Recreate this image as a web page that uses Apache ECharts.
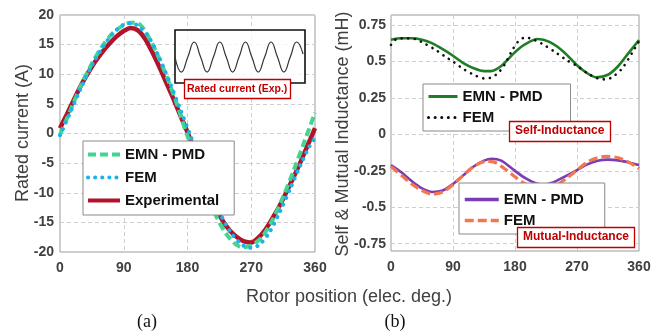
<!DOCTYPE html>
<html><head><meta charset="utf-8">
<script src="https://cdn.jsdelivr.net/npm/echarts@6/dist/echarts.min.js"></script>
<style>html,body{margin:0;padding:0;background:#fff}#c{width:665px;height:335px}</style>
</head><body><div id="c"></div>
<script>
// ---------- (a) Rated current ----------
const xTicks = [0, 90, 180, 270, 360];
const emnAng = [0,15,30,45,60,75,90,100,110,120,135,150,165,178,190,205,220,235,248,258,270,285,300,315,330,345,360];
const emnCur = [-0.2,4,8.2,11.8,14.8,17,18.3,18.7,18.6,17.3,14,9.8,5,0.2,-3.5,-8.8,-13.8,-17.0,-18.7,-19.2,-18.9,-17.5,-14.6,-10.7,-6.2,-1.4,3.5];
const femAng = [0,15,30,45,60,75,90,100,110,125,140,155,170,184,195,210,225,240,255,268,280,295,310,325,340,352,360];
const femCur = [-0.3,3.7,7.8,11.5,14.5,16.9,18.4,18.6,18.2,16.3,12.8,8.6,4,-0.3,-3.8,-8.8,-13.2,-16.5,-18.6,-19.3,-18.9,-16.8,-13.3,-9.3,-5.2,-2.2,-0.8];
const expAng = [0,10,20,30,40,50,60,70,80,90,100,110,120,130,140,150,160,170,180,190,200,210,220,230,240,250,260,270,280,290,300,310,320,330,340,350,360];
const expCur = [0.9,3.3,5.8,8.2,10.3,12.2,13.8,15.2,16.4,17.3,17.8,17.4,16,13.8,11.3,8.6,5.9,3.0,0.2,-2.9,-6.0,-9.2,-12.4,-14.8,-16.4,-17.5,-18.2,-18.4,-17.6,-16.2,-14.3,-12.2,-9.8,-7.3,-4.7,-1.9,0.9];
const insetIdx = [0,1,2,3,4,5,6,7,8,9,10,11,12,13,14,15,16,17,18,19,20];
const insetVal = [0,-1,0,1,0,-1,0,1,0,-1,0,1,0,-1,0,1,0,-1,0,1,0.2];
const namesA = ['EMN - PMD#a', 'FEM#a', 'Experimental#a'];

// ---------- (b) Inductances ----------
const yTicksB = [-0.75,-0.5,-0.25,0,0.25,0.5,0.75];
const selfEmnAng = [0,15,30,45,60,75,90,105,120,135,145,160,180,195,213,230,250,270,285,298,315,330,345,360];
const selfEmnL = [0.65,0.66,0.66,0.65,0.625,0.585,0.54,0.49,0.455,0.435,0.435,0.47,0.565,0.62,0.655,0.635,0.57,0.475,0.42,0.392,0.41,0.47,0.56,0.648];
const selfFemAng = [0,8,20,35,50,65,80,90,105,120,135,145,155,165,175,185,195,205,220,240,255,270,285,300,310,320,335,350,360];
const selfFemL = [0.615,0.655,0.66,0.655,0.62,0.58,0.53,0.5,0.45,0.41,0.385,0.39,0.42,0.48,0.57,0.64,0.665,0.655,0.62,0.56,0.51,0.47,0.42,0.385,0.378,0.39,0.45,0.56,0.64];
const mutEmnAng = [0,15,30,45,60,75,90,105,120,135,146,160,180,195,210,222,235,250,270,285,300,315,330,345,360];
const mutEmnL = [-0.21,-0.26,-0.32,-0.37,-0.395,-0.385,-0.34,-0.28,-0.22,-0.18,-0.167,-0.18,-0.25,-0.3,-0.335,-0.345,-0.33,-0.295,-0.245,-0.205,-0.18,-0.173,-0.178,-0.192,-0.21];
const mutFemAng = [0,15,30,45,60,75,90,105,120,138,150,165,180,195,210,225,240,255,270,285,300,313,330,345,360];
const mutFemL = [-0.22,-0.28,-0.34,-0.385,-0.41,-0.395,-0.345,-0.28,-0.22,-0.185,-0.19,-0.235,-0.29,-0.34,-0.365,-0.37,-0.35,-0.3,-0.245,-0.19,-0.16,-0.15,-0.16,-0.19,-0.235];
const namesSelf = ['EMN - PMD#s', 'FEM#s'];
const namesMut = ['EMN - PMD#m', 'FEM#m'];

const zip = (a, b) => a.map((v, i) => [v, b[i]]);
const FONT = 'Liberation Sans';
const tickLabel = {fontSize: 14, fontWeight: 'bold', color: '#404040', fontFamily: FONT};
const split = {show: true, lineStyle: {color: '#cfcfcf', type: [4, 3], width: 1}};
const strip = n => n.split('#')[0];

const chart = echarts.init(document.getElementById('c'), null, {renderer: 'canvas'});
const legendBase = {
  orient: 'vertical', selectedMode: false, backgroundColor: '#fff',
  borderColor: '#8a8a8a', borderWidth: 1, borderRadius: 0,
  itemStyle: {opacity: 0, color: 'transparent', borderWidth: 0},
  textStyle: {fontSize: 15, fontWeight: 'bold', color: '#111', fontFamily: FONT},
  formatter: strip, z: 5
};
const labelBox = (text, left, top, size, pad) => ({
  text, left, top, padding: pad, backgroundColor: '#fff',
  borderColor: '#c00000', borderWidth: 1.3, z: 8,
  textStyle: {color: '#c00000', fontSize: size, fontWeight: 'bold', fontFamily: FONT}
});

chart.setOption({
  animation: false,
  grid: [
    {left: 60, top: 15, width: 255, height: 237, show: true, borderColor: '#9a9a9a', borderWidth: 1},
    {left: 391, top: 15, width: 248, height: 236, show: true, borderColor: '#9a9a9a', borderWidth: 1},
    {left: 175, top: 30, width: 130, height: 53, show: true, borderColor: '#111', borderWidth: 1.6, backgroundColor: 'rgba(255,255,255,0.78)', z: 3}
  ],
  xAxis: [
    {gridIndex: 0, type: 'value', min: 0, max: 360, interval: 90, axisLine: {show: false}, axisTick: {show: false}, axisLabel: Object.assign({margin: 9}, tickLabel), splitLine: split},
    {gridIndex: 1, type: 'value', min: 0, max: 360, interval: 90, axisLine: {show: false}, axisTick: {show: false}, axisLabel: Object.assign({margin: 9}, tickLabel), splitLine: split},
    {gridIndex: 2, type: 'value', min: 0, max: 20.3, show: false}
  ],
  yAxis: [
    {gridIndex: 0, type: 'value', min: -20, max: 20, interval: 5, axisLine: {show: false}, axisTick: {show: false}, axisLabel: Object.assign({margin: 6}, tickLabel), splitLine: split},
    {gridIndex: 1, type: 'value', min: -0.8, max: 0.82, axisLine: {show: false},
     axisTick: {show: false, customValues: yTicksB},
     axisLabel: Object.assign({margin: 5, customValues: yTicksB, formatter: v => String(v)}, tickLabel), splitLine: split},
    {gridIndex: 2, type: 'value', min: -1.73, max: 1.8, show: false}
  ],
  legend: [
    Object.assign({}, legendBase, {left: 83, top: 141, padding: [6, 15, 7, 3], itemGap: 8, itemWidth: 32, itemHeight: 14,
      data: namesA.map(n => ({name: n, lineStyle: {width: 4}}))}),
    Object.assign({}, legendBase, {left: 423, top: 84, padding: [5, 28, 6, 4], itemGap: 6, itemWidth: 29, itemHeight: 16,
      data: namesSelf.map(n => ({name: n, lineStyle: {width: 3}}))}),
    Object.assign({}, legendBase, {left: 459, top: 183, padding: [9, 21, 6, 4], itemGap: 6, itemWidth: 34, itemHeight: 14,
      data: namesMut.map(n => ({name: n, lineStyle: {width: 3.5}}))})
  ],
  title: [
    labelBox('Rated current (Exp.)', 184, 79, 10.5, [5, 3, 4, 3]),
    labelBox('Self-Inductance', 509, 121, 12, [4, 6, 5, 6]),
    labelBox('Mutual-Inductance', 517, 227, 12, [4, 6, 5, 6])
  ],
  series: [
    {type: 'line', name: namesA[2], xAxisIndex: 0, yAxisIndex: 0, data: zip(expAng, expCur), symbol: 'none', smooth: 0.3,
     lineStyle: {color: '#b0132a', width: 4.5}, itemStyle: {color: '#b0132a'}, z: 2},
    {type: 'line', name: namesA[0], xAxisIndex: 0, yAxisIndex: 0, data: zip(emnAng, emnCur), symbol: 'none', smooth: 0.3,
     lineStyle: {color: '#45d48f', width: 4, type: [8, 4]}, itemStyle: {color: '#45d48f'}, z: 3},
    {type: 'line', name: namesA[1], xAxisIndex: 0, yAxisIndex: 0, data: zip(femAng, femCur), symbol: 'none', smooth: 0.3,
     lineStyle: {color: '#1cb2ea', width: 4, type: [0.1, 7], cap: 'round'}, itemStyle: {color: '#1cb2ea'}, z: 4},
    {type: 'line', name: namesSelf[0], xAxisIndex: 1, yAxisIndex: 1, data: zip(selfEmnAng, selfEmnL), symbol: 'none', smooth: 0.3,
     lineStyle: {color: '#1f7d25', width: 2.6}, itemStyle: {color: '#1f7d25'}, z: 2},
    {type: 'line', name: namesSelf[1], xAxisIndex: 1, yAxisIndex: 1, data: zip(selfFemAng, selfFemL), symbol: 'none', smooth: 0.3,
     lineStyle: {color: '#111', width: 2.6, type: [0.1, 6.5], cap: 'round'}, itemStyle: {color: '#111'}, z: 3},
    {type: 'line', name: namesMut[0], xAxisIndex: 1, yAxisIndex: 1, data: zip(mutEmnAng, mutEmnL), symbol: 'none', smooth: 0.3,
     lineStyle: {color: '#7a3db5', width: 2.6}, itemStyle: {color: '#7a3db5'}, z: 2},
    {type: 'line', name: namesMut[1], xAxisIndex: 1, yAxisIndex: 1, data: zip(mutFemAng, mutFemL), symbol: 'none', smooth: 0.3,
     lineStyle: {color: '#f5754f', width: 3.2, type: [9, 4]}, itemStyle: {color: '#f5754f'}, z: 3},
    {type: 'line', name: 'inset', xAxisIndex: 2, yAxisIndex: 2, data: zip(insetIdx, insetVal), symbol: 'none', smooth: 0.5,
     lineStyle: {color: '#333', width: 1.2}, z: 6, silent: true}
  ],
  graphic: [
    {type: 'text', x: 23, y: 133, rotation: Math.PI / 2, style: {text: 'Rated current (A)', font: '18px "Liberation Sans"', fill: '#404040', textAlign: 'center', textVerticalAlign: 'middle', align: 'center', verticalAlign: 'middle'}},
    {type: 'text', x: 343, y: 134, rotation: Math.PI / 2, style: {text: 'Self & Mutual Inductance (mH)', font: '18px "Liberation Sans"', fill: '#404040', textAlign: 'center', textVerticalAlign: 'middle', align: 'center', verticalAlign: 'middle'}},
    {type: 'text', x: 349, y: 297, style: {text: 'Rotor position (elec. deg.)', font: '18px "Liberation Sans"', fill: '#404040', textAlign: 'center', textVerticalAlign: 'middle', align: 'center', verticalAlign: 'middle'}},
    {type: 'text', x: 147, y: 322, style: {text: '(a)', font: '18px "Liberation Serif"', fill: '#111', textAlign: 'center', textVerticalAlign: 'middle', align: 'center', verticalAlign: 'middle'}},
    {type: 'text', x: 395, y: 322, style: {text: '(b)', font: '18px "Liberation Serif"', fill: '#111', textAlign: 'center', textVerticalAlign: 'middle', align: 'center', verticalAlign: 'middle'}}
  ]
});
</script></body></html>
